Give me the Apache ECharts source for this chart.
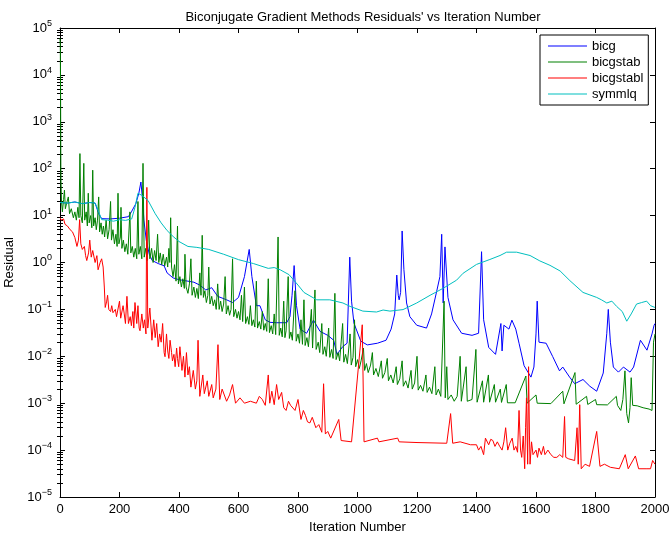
<!DOCTYPE html>
<html><head><meta charset="utf-8">
<script src="https://cdn.jsdelivr.net/npm/echarts@6/dist/echarts.min.js"></script>
<style>html,body{margin:0;padding:0;background:#fff}#c{width:672px;height:537px}</style>
</head><body><div id="c"></div>
<script>
const titleText = "Biconjugate Gradient Methods Residuals' vs Iteration Number";
const seriesNames = ['bicg', 'bicgstab', 'bicgstabl', 'symmlq'];
const seriesColors = ['#0000ff', '#008000', '#ff0000', '#00bfbf'];
const xMin = 0, xMax = 2000, xStep = 200;
const yMin = 1e-5, yMax = 1e5;

// [iteration, residual]
const bicg = [[0,19],[25,18.5],[50,19.5],[75,18],[100,19],[118,18.5],[130,11],[140,8.6],[170,8.5],[200,8.8],[230,9.5],[240,12],[255,18],[265,30],[272,52],[278,20],[282,8],[290,3],[300,1.5],[310,1.1],[330,0.95],[350,0.85],[360,0.6],[380,0.47],[400,0.43],[430,0.4],[450,0.38],[470,0.33],[490,0.26],[510,0.29],[530,0.19],[560,0.16],[580,0.14],[600,0.18],[620,0.5],[636,1.9],[645,0.5],[660,0.12],[672,0.12],[690,0.06],[706,0.053],[728,0.052],[762,0.052],[773,0.07],[780,0.2],[787,0.86],[795,0.12],[807,0.038],[829,0.031],[852,0.059],[874,0.034],[900,0.028],[920,0.022],[931,0.011],[950,0.016],[965,0.019],[974,1.3],[980,0.15],[988,0.051],[1011,0.021],[1033,0.0175],[1067,0.019],[1096,0.022],[1113,0.038],[1125,0.08],[1132,0.54],[1137,0.2],[1140,0.16],[1145,0.23],[1150,4.7],[1156,0.7],[1165,0.137],[1176,0.07],[1199,0.046],[1232,0.04],[1249,0.08],[1266,0.24],[1277,0.5],[1283,4.0],[1288,0.137],[1294,2.15],[1304,0.18],[1321,0.06],[1350,0.031],[1385,0.028],[1407,0.031],[1417,1.7],[1424,0.06],[1441,0.0155],[1464,0.011],[1482,0.05],[1486,0.013],[1492,0.046],[1509,0.038],[1519,0.059],[1532,0.038],[1543,0.019],[1560,0.0063],[1583,0.0036],[1593,0.0059],[1600,0.03],[1604,0.15],[1610,0.02],[1634,0.019],[1656,0.0099],[1679,0.0049],[1690,0.0059],[1713,0.0036],[1730,0.0026],[1758,0.0032],[1781,0.0023],[1804,0.0018],[1826,0.0044],[1838,0.031],[1843,0.1],[1850,0.02],[1860,0.0059],[1877,0.0046],[1894,0.0059],[1916,0.0046],[1928,0.0059],[1951,0.022],[1973,0.0135],[1990,0.03],[1997,0.046],[2000,0.05]];

const bicgstab = [[0,60000],[1,40000],[2,3000],[3,60],[5,20],[8,12],[12,22],[15,35],[18,14],[22,18],[28,25],[32,11],[38,14],[45,9],[50,12],[55,8],[60,15],[64,9],[67,210],[70,10],[75,7],[80,130],[83,8],[88,12],[92,6],[95,30],[98,7],[103,10],[107,5.5],[110,93],[113,6],[118,9],[122,5],[126,8],[130,25],[133,4.5],[138,7],[142,4],[146,6],[150,3.5],[155,8],[160,3.2],[165,5],[170,20],[173,3],[178,5],[183,2.5],[188,4],[192,2.2],[195,30],[198,2.5],[203,3.5],[205,15],[208,2],[213,3],[218,1.7],[223,2.5],[228,1.5],[235,12],[238,1.6],[243,2.2],[248,1.3],[253,2],[258,1.2],[262,20],[265,1.5],[270,2.2],[275,1.2],[279,130],[283,1.3],[288,2],[293,1.1],[298,8],[302,1.2],[308,2],[313,1],[318,1.8],[323,1.1],[328,4],[332,1],[337,1.6],[342,0.9],[347,1.5],[352,0.85],[358,1.3],[362,0.8],[366,2],[369,1],[372,9],[375,0.8],[380,0.5],[385,0.9],[390,0.4],[395,6],[398,0.35],[403,0.5],[408,0.3],[413,0.45],[418,0.28],[420,1.5],[424,0.3],[430,0.22],[435,0.35],[440,1.2],[444,0.2],[450,0.3],[455,0.18],[460,0.28],[465,0.17],[470,0.6],[474,0.2],[478,3.8],[482,0.18],[487,0.25],[492,0.14],[497,0.2],[500,0.8],[504,0.13],[510,0.19],[515,0.12],[520,0.16],[525,0.1],[530,0.35],[535,0.1],[540,0.15],[545,0.09],[550,0.13],[555,0.5],[559,0.08],[565,0.12],[570,0.075],[575,0.1],[580,1.2],[584,0.07],[590,0.1],[595,0.065],[600,0.09],[605,0.06],[610,0.2],[614,0.055],[620,0.3],[624,0.05],[630,0.07],[635,0.048],[640,0.12],[645,0.045],[650,0.06],[655,0.042],[660,0.4],[664,0.04],[670,0.055],[675,0.038],[680,0.09],[685,0.036],[690,0.05],[695,0.034],[700,0.45],[704,0.032],[710,0.045],[715,0.03],[720,0.08],[725,0.029],[733,3.5],[737,0.028],[742,0.04],[747,0.026],[752,0.15],[756,0.025],[760,0.035],[767,0.5],[771,0.024],[776,0.033],[781,0.022],[790,0.25],[794,0.021],[800,0.03],[805,0.019],[810,0.06],[815,0.018],[820,0.16],[824,0.017],[830,0.025],[835,0.016],[845,0.1],[849,0.015],[857,0.26],[861,0.014],[868,0.02],[873,0.012],[880,0.05],[884,0.011],[890,0.016],[895,0.01],[903,0.04],[907,0.0095],[913,0.014],[918,0.009],[924,0.22],[928,0.0085],[935,0.012],[940,0.008],[950,0.05],[954,0.0075],[960,0.011],[966,0.007],[975,0.03],[979,0.0065],[985,0.0095],[990,0.06],[994,0.006],[1000,0.0085],[1006,0.0055],[1012,0.008],[1020,0.015],[1024,0.005],[1030,0.007],[1036,0.0045],[1044,0.0065],[1050,0.012],[1054,0.004],[1062,0.0055],[1070,0.0037],[1080,0.008],[1084,0.0034],[1092,0.0045],[1100,0.009],[1104,0.003],[1112,0.004],[1120,0.0027],[1130,0.006],[1134,0.0025],[1142,0.0033],[1150,0.008],[1154,0.0023],[1162,0.003],[1170,0.0021],[1180,0.005],[1184,0.002],[1192,0.0027],[1200,0.01],[1204,0.0019],[1212,0.0024],[1220,0.0018],[1230,0.004],[1234,0.0017],[1242,0.0022],[1250,0.0016],[1260,0.006],[1264,0.0015],[1272,0.002],[1280,0.0014],[1291,0.15],[1295,0.0013],[1300,0.006],[1304,0.0012],[1315,0.0015],[1325,0.0011],[1335,0.0014],[1345,0.01],[1349,0.0011],[1365,0.006],[1369,0.0011],[1385,0.0012],[1398,0.014],[1402,0.00105],[1420,0.003],[1424,0.00105],[1440,0.004],[1444,0.00105],[1460,0.0025],[1464,0.00105],[1480,0.002],[1484,0.00104],[1500,0.0025],[1504,0.00102],[1530,0.00102],[1566,0.0038],[1570,0.001],[1600,0.0015],[1604,0.001],[1650,0.00098],[1690,0.0018],[1694,0.00097],[1731,0.0045],[1735,0.00095],[1770,0.0014],[1774,0.00094],[1800,0.0012],[1804,0.00093],[1840,0.00092],[1870,0.0014],[1874,0.0009],[1885,0.0007],[1892,0.0012],[1899,0.0049],[1905,0.0006],[1911,0.00038],[1916,0.0008],[1920,0.0035],[1925,0.0009],[1940,0.00088],[1960,0.0008],[1980,0.00075],[1990,0.0007],[1995,0.02],[2000,0.03]];

const bicgstabl = [[0,9],[5,8],[8,7.5],[12,8.5],[17,6.5],[25,6],[34,5],[42,4.5],[50,3.4],[57,2.2],[62,3],[66,8.2],[70,2.5],[75,1.9],[82,2.2],[86,1.4],[90,1.1],[96,1.6],[100,3.0],[105,1.3],[110,1.8],[118,1.0],[124,1.4],[128,0.7],[135,1.0],[140,1.2],[145,0.8],[149,0.3],[152,0.11],[157,0.15],[160,0.2],[164,0.1],[170,0.09],[174,0.12],[178,0.085],[186,0.1],[190,0.07],[195,0.075],[200,0.15],[204,0.065],[208,0.06],[212,0.12],[216,0.08],[220,0.05],[225,0.19],[230,0.05],[236,0.07],[240,0.045],[245,0.09],[248,0.04],[252,0.14],[258,0.05],[262,0.12],[266,0.04],[269,0.035],[275,0.08],[280,0.04],[284,0.06],[289,0.03],[292,40],[295,0.04],[302,0.107],[309,0.022],[315,0.06],[320,0.025],[325,0.05],[330,0.016],[335,0.03],[340,0.02],[345,0.05],[350,0.012],[353,0.0098],[358,0.03],[362,0.013],[366,0.009],[370,0.022],[375,0.012],[378,0.008],[383,0.011],[387,0.006],[392,0.015],[395,0.009],[399,0.006],[403,0.016],[410,0.005],[415,0.01],[420,0.0036],[425,0.012],[430,0.004],[435,0.006],[440,0.0022],[448,0.005],[455,0.002],[460,0.003],[464,0.022],[470,0.0014],[480,0.004],[485,0.0016],[495,0.003],[500,0.0014],[510,0.0025],[515,0.0013],[524,0.002],[531,0.0177],[537,0.0012],[545,0.002],[560,0.0011],[570,0.0015],[580,0.0025],[590,0.001],[605,0.0013],[620,0.001],[640,0.0011],[660,0.001],[670,0.0014],[680,0.0012],[690,0.0009],[700,0.004],[705,0.001],[712,0.0018],[720,0.00093],[728,0.0025],[735,0.0012],[745,0.0017],[752,0.0008],[760,0.0007],[768,0.0011],[775,0.0009],[790,0.0007],[800,0.0012],[810,0.00045],[818,0.0007],[825,0.00055],[832,0.0004],[840,0.00038],[848,0.0005],[860,0.0003],[870,0.00035],[880,0.00024],[886,0.0026],[892,0.00022],[900,0.00025],[910,0.00018],[937,0.00045],[945,0.00016],[980,0.00015],[1016,0.047],[1022,0.00015],[1067,0.00018],[1072,0.00015],[1135,0.00018],[1140,0.00015],[1200,0.000145],[1300,0.00014],[1313,0.0006],[1320,0.00014],[1345,0.00015],[1380,0.00013],[1400,0.00013],[1407,0.0001],[1415,0.00012],[1424,0.00008],[1430,0.00018],[1441,0.00013],[1448,0.00017],[1455,0.00016],[1462,0.00012],[1470,0.00015],[1478,0.00012],[1486,0.0001],[1492,0.00015],[1498,0.0003],[1505,0.0001],[1512,0.00014],[1520,0.00018],[1526,0.0001],[1532,0.00012],[1538,0.00009],[1543,0.0007],[1548,0.0001],[1552,0.00007],[1557,0.0002],[1562,0.00004],[1565,0.0003],[1568,0.0013],[1572,0.00005],[1575,0.006],[1578,0.0002],[1580,0.00005],[1585,0.00015],[1590,0.00008],[1600,0.0001],[1605,0.00007],[1610,0.00011],[1618,0.00008],[1625,0.00012],[1630,0.00008],[1640,0.0001],[1650,0.00008],[1660,0.00007],[1670,0.00007],[1680,0.00008],[1690,0.00007],[1696,0.00052],[1700,0.00007],[1710,0.000065],[1730,0.00006],[1738,0.0003],[1742,0.00005],[1747,0.00093],[1752,0.00004],[1765,0.00005],[1780,0.000045],[1804,0.00025],[1815,0.000045],[1830,0.00005],[1850,0.000043],[1880,0.00004],[1900,0.00008],[1910,0.00004],[1934,0.000075],[1945,0.00004],[1970,0.00004],[1985,0.00004],[1992,0.00006],[2000,0.00005]];

const symmlq = [[0,19],[25,18.5],[50,19.5],[75,18],[100,19],[118,18.5],[130,12],[140,8.2],[160,8],[180,7.6],[200,8.2],[220,7.9],[241,8.5],[252,15],[262,30],[275,27],[296,21],[320,11],[340,7],[360,4.8],[380,3.6],[400,2.8],[430,2.2],[460,2.1],[500,1.9],[550,1.5],[600,1.15],[650,0.95],[700,0.75],[720,0.78],[740,0.7],[770,0.55],[800,0.33],[820,0.23],[863,0.16],[907,0.16],[951,0.137],[975,0.116],[1018,0.092],[1064,0.088],[1086,0.097],[1109,0.092],[1153,0.099],[1199,0.137],[1244,0.2],[1287,0.28],[1333,0.42],[1355,0.59],[1400,0.91],[1445,1.16],[1479,1.41],[1501,1.66],[1535,1.66],[1580,1.41],[1613,1.08],[1647,0.87],[1681,0.66],[1714,0.41],[1758,0.23],[1804,0.18],[1820,0.16],[1838,0.137],[1855,0.15],[1871,0.116],[1890,0.09],[1905,0.056],[1920,0.08],[1938,0.13],[1955,0.14],[1972,0.15],[1985,0.12],[2000,0.11]];

const seriesData = [bicg, bicgstab, bicgstabl, symmlq];

const FONT = "'Liberation Sans', Arial, Helvetica, sans-serif";
const FS = 13;
const minorTicks = [];
for (let e = -5; e < 5; e++) for (let m = 2; m <= 9; m++) minorTicks.push(m * Math.pow(10, e));

function expLabel(v) {
  const e = Math.round(Math.log10(v));
  return '{b|10}{s|' + (e < 0 ? '\u2212' + (-e) : e) + '}';
}

const chart = echarts.init(document.getElementById('c'), null, {renderer: 'canvas'});
const axisLine = {show: true, onZero: false, lineStyle: {color: '#000', width: 1}};
const baseX = {type: 'value', min: xMin, max: xMax, interval: xStep, splitLine: {show: false}};
const baseY = {type: 'log', logBase: 10, min: yMin, max: yMax, interval: 1, splitLine: {show: false}};

chart.setOption({
  animation: false,
  backgroundColor: '#fff',
  title: {text: titleText, left: 358, top: 6, textAlign: 'center',
    textStyle: {fontSize: FS, fontWeight: 'normal', color: '#000', fontFamily: FONT}},
  legend: {
    data: seriesNames, orient: 'vertical', left: 540, top: 35,
    padding: [3, 5, 3, 8], itemGap: 0, itemWidth: 39, itemHeight: 1, icon: 'rect',
    backgroundColor: '#fff', borderColor: '#000', borderWidth: 1,
    textStyle: {fontSize: FS, color: '#000', fontFamily: FONT, lineHeight: 16}
  },
  grid: {left: 60, right: 17, top: 28, bottom: 40, containLabel: false, outerBoundsMode: 'none'},
  xAxis: [
    Object.assign({}, baseX, {position: 'bottom', axisLine,
      axisTick: {inside: true, length: 5, lineStyle: {color: '#000'}},
      axisLabel: {margin: 6, color: '#000', fontSize: FS, fontFamily: FONT, formatter: v => String(v)},
      name: 'Iteration Number', nameLocation: 'middle', nameGap: 19,
      nameTextStyle: {fontSize: FS, color: '#000', fontFamily: FONT}}),
    Object.assign({}, baseX, {position: 'top', axisLine,
      axisTick: {inside: true, length: 5, lineStyle: {color: '#000'}},
      axisLabel: {show: false}})
  ],
  yAxis: [
    Object.assign({}, baseY, {position: 'left', axisLine,
      axisTick: {inside: true, length: 5, lineStyle: {color: '#000'}},
      axisLabel: {margin: 8, formatter: expLabel, color: '#000', fontFamily: FONT,
        rich: {b: {fontSize: FS, color: '#000', fontFamily: FONT},
               s: {fontSize: 9, color: '#000', fontFamily: FONT, padding: [0, 0, 9, 0]}}},
      name: 'Residual', nameLocation: 'middle', nameGap: 33,
      nameTextStyle: {fontSize: FS, color: '#000', fontFamily: FONT}}),
    Object.assign({}, baseY, {position: 'left', axisLine: {show: false},
      axisTick: {inside: true, length: 3, customValues: minorTicks, lineStyle: {color: '#000'}},
      axisLabel: {show: false}}),
    Object.assign({}, baseY, {position: 'right', axisLine,
      axisTick: {inside: true, length: 5, lineStyle: {color: '#000'}},
      axisLabel: {show: false}}),
    Object.assign({}, baseY, {position: 'right', axisLine: {show: false},
      axisTick: {inside: true, length: 3, customValues: minorTicks, lineStyle: {color: '#000'}},
      axisLabel: {show: false}})
  ],
  series: seriesNames.map((n, i) => ({
    name: n, type: 'line', data: seriesData[i], xAxisIndex: 0, yAxisIndex: 0,
    symbol: 'none', showSymbol: false, smooth: false,
    lineStyle: {color: seriesColors[i], width: 1}, itemStyle: {color: seriesColors[i]},
    emphasis: {disabled: true}
  }))
});
</script></body></html>
